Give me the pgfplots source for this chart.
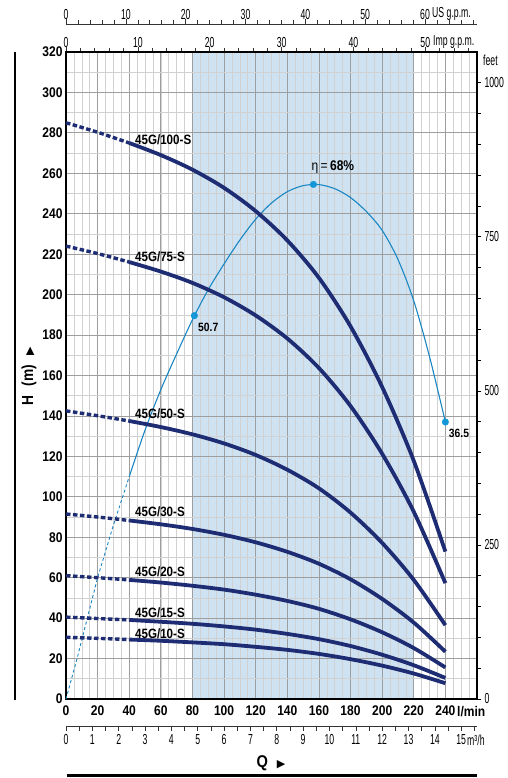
\documentclass[border=0pt]{standalone}
\usepackage{fontspec}
\setmainfont{Liberation Sans}[FakeStretch=0.86]
\newfontfamily\condfont{Liberation Sans}[FakeStretch=0.6]
\newfontfamily\symfont{DejaVu Sans}
\usepackage{pgfplots}
\pgfplotsset{compat=1.18}
\definecolor{navy}{RGB}{30,45,115}
\definecolor{effblue}{RGB}{25,135,195}
\definecolor{markblue}{RGB}{20,150,215}
\definecolor{shadeblue}{RGB}{207,226,242}
\pgfplotsset{dashpart/.style={navy, line width=3.4pt, dash pattern=on 4.5pt off 2.5pt, smooth}}
\pgfplotsset{solidpart/.style={navy, line width=3.8pt, smooth}}
\begin{document}
\begin{tikzpicture}
% ---------- main axis ----------
\begin{axis}[
  at={(0pt,0pt)}, anchor=south west,
  scale only axis, width=411pt, height=647pt,
  xmin=0, xmax=260, ymin=0, ymax=320,
  set layers,
  xtick={0,20,...,240}, minor xtick={0,5,...,260},
  ytick={0,20,...,320}, minor ytick={10,30,...,310},
  grid=both,
  major grid style={draw=black!38, line width=0.8pt},
  minor grid style={draw=black!18, line width=0.6pt},
  major tick length=0pt, minor tick length=0pt,
  axis line style={line width=2.2pt},
  tick label style={font=\bfseries\fontsize{14}{14}\selectfont},
  /pgf/number format/assume math mode=true,
  xticklabel style={yshift=-3pt},
  clip=false,
]
\addplot[fill=shadeblue, draw=none, on layer=axis background] coordinates {(80,0)(80,320)(220,320)(220,0)} -- cycle;

% efficiency curve
\addplot[effblue, line width=0.9pt, dash pattern=on 3pt off 2.5pt] coordinates {(0,0)(7,20)(13.5,40)(20,60)(30,86)(40,110)};
\addplot[effblue, line width=1.1pt, smooth] coordinates {(40,110)(50,133)(60,153)(70,170.7)(80,187.6)(90,202.5)(100,215.2)(110,227)(120,237.3)(130,245.3)(140,250.9)(150,253.9)(160,254.4)(170,252.4)(180,248)(190,241.1)(200,231.8)(210,217.4)(220,196.9)(230,169.2)(240,137)};
\addplot[only marks, mark=*, mark size=3.3pt, color=markblue] coordinates {(81.2,189.6)(156.5,254.5)(240,137)};

% pump curves: dashed parts
\addplot[dashpart] coordinates {(0,285)(20,280.3)(40,275)};
\addplot[dashpart] coordinates {(0,224)(20,220.3)(40,216.1)};
\addplot[dashpart] coordinates {(0,142.5)(20,140.1)(40,137.5)};
\addplot[dashpart] coordinates {(0,91.5)(20,90)(40,88.3)};
\addplot[dashpart] coordinates {(0,61)(20,60)(40,58.9)};
\addplot[dashpart] coordinates {(0,40.5)(20,39.8)(40,39.1)};
\addplot[dashpart] coordinates {(0,30.5)(20,30)(40,29.4)};
% solid parts
\addplot[solidpart] coordinates {(40,275)(60,269)(80,261.8)(100,252.8)(120,241.3)(140,226.8)(160,208.3)(180,184.3)(200,154.3)(220,117.8)(240,72.9)};
\addplot[solidpart] coordinates {(40,216.1)(60,211.4)(80,205.8)(100,198.7)(120,189.7)(140,178.3)(160,163.7)(180,144.9)(200,121.3)(220,92.6)(240,57.3)};
\addplot[solidpart] coordinates {(40,137.5)(60,134.5)(80,130.9)(100,126.4)(120,120.7)(140,113.4)(160,104.2)(180,92.2)(200,77.2)(220,58.9)(240,36.5)};
\addplot[solidpart] coordinates {(40,88.3)(60,86.4)(80,84.1)(100,81.2)(120,77.5)(140,72.8)(160,66.9)(180,59.2)(200,49.5)(220,37.8)(240,23.4)};
\addplot[solidpart] coordinates {(40,58.9)(60,57.6)(80,56)(100,54.1)(120,51.6)(140,48.5)(160,44.6)(180,39.4)(200,33)(220,25.2)(240,15.6)};
\addplot[solidpart] coordinates {(40,39.1)(60,38.2)(80,37.2)(100,35.9)(120,34.3)(140,32.2)(160,29.6)(180,26.2)(200,21.9)(220,16.7)(240,10.4)};
\addplot[solidpart] coordinates {(40,29.4)(60,28.8)(80,28)(100,27.1)(120,25.8)(140,24.3)(160,22.3)(180,19.7)(200,16.5)(220,12.6)(240,7.8)};

% curve labels
\node[anchor=west, inner sep=0pt, font=\bfseries\fontsize{13.5}{13.5}\selectfont] at (axis cs:43.6,276.5) {45G/100-S};
\node[anchor=west, inner sep=0pt, font=\bfseries\fontsize{13.5}{13.5}\selectfont] at (axis cs:43.6,218.8) {45G/75-S};
\node[anchor=west, inner sep=0pt, font=\bfseries\fontsize{13.5}{13.5}\selectfont] at (axis cs:43.6,141.1) {45G/50-S};
\node[anchor=west, inner sep=0pt, font=\bfseries\fontsize{13.5}{13.5}\selectfont] at (axis cs:43.6,92.5) {45G/30-S};
\node[anchor=west, inner sep=0pt, font=\bfseries\fontsize{13.5}{13.5}\selectfont] at (axis cs:43.6,62.9) {45G/20-S};
\node[anchor=west, inner sep=0pt, font=\bfseries\fontsize{13.5}{13.5}\selectfont] at (axis cs:43.6,42.8) {45G/15-S};
\node[anchor=west, inner sep=0pt, font=\bfseries\fontsize{13.5}{13.5}\selectfont] at (axis cs:43.6,32.4) {45G/10-S};
\node[anchor=west, inner sep=0pt, font=\fontsize{14}{14}\selectfont] at (axis cs:155.3,263) {η\,=\,\textbf{68\%}};
\node[anchor=west, inner sep=0pt, font=\bfseries\fontsize{12}{12}\selectfont] at (axis cs:83.5,183.7) {50.7};
\node[anchor=west, inner sep=0pt, font=\bfseries\fontsize{12}{12}\selectfont] at (axis cs:242.1,131.2) {36.5};
\end{axis}

% ---------- feet axis (right) ----------
\begin{axis}[
  at={(0pt,0pt)}, anchor=south west,
  scale only axis, width=411pt, height=647pt,
  xmin=0, xmax=260, ymin=0, ymax=1049.87,
  hide x axis, axis y line*=right,
  axis line style={-, line width=2.2pt},
  ytick={0,250,500,750,1000},
  minor ytick={50,100,...,1000},
  tick align=outside, major tick length=4pt, minor tick length=4pt,
  every tick/.style={black, line width=0.6pt},
  yticklabel style={font=\condfont\fontsize{14.5}{14.5}\selectfont},
  /pgf/number format/assume math mode=true,
  /pgf/number format/1000 sep={},
]
\addplot[draw=none] coordinates {(0,0)(260,1049.87)};
\end{axis}
\node[anchor=west, inner sep=0pt, font=\condfont\fontsize{14.5}{14.5}\selectfont] at (417pt,639pt) {feet};

% ---------- Imp gpm (top of box) ----------
\begin{axis}[
  at={(0pt,0pt)}, anchor=south west,
  scale only axis, width=411pt, height=647pt,
  xmin=0, xmax=57.192, ymin=0, ymax=1,
  hide y axis, axis x line*=top,
  axis line style={-, line width=2.2pt},
  xtick={0,10,...,50}, minor xtick={2,4,...,56},
  tick align=outside, major tick length=5pt, minor tick length=3.5pt,
  every tick/.style={black!80, line width=0.6pt},
  xticklabel style={font=\condfont\fontsize{14.5}{14.5}\selectfont, yshift=-4.5pt},
  /pgf/number format/assume math mode=true,
]
\addplot[draw=none] coordinates {(0,0)(57.192,1)};
\end{axis}
\node[anchor=west, inner sep=0pt, font=\condfont\fontsize{14.5}{14.5}\selectfont] at (367pt,657pt) {Imp g.p.m.};

% ---------- US gpm ----------
\begin{axis}[
  at={(0pt,675pt)}, anchor=north west,
  scale only axis, width=411pt, height=5pt,
  xmin=0, xmax=68.685, ymin=0, ymax=1,
  hide y axis, axis x line*=top,
  axis line style={-, line width=0.8pt, black!80},
  xtick={0,10,...,60}, minor xtick={2,4,...,68},
  tick align=outside, major tick length=5pt, minor tick length=3.5pt,
  every tick/.style={black!80, line width=0.6pt},
  xticklabel style={font=\condfont\fontsize{14.5}{14.5}\selectfont, yshift=-4.5pt},
  /pgf/number format/assume math mode=true,
]
\addplot[draw=none] coordinates {(0,0)(68.685,1)};
\end{axis}
\node[anchor=west, inner sep=0pt, font=\condfont\fontsize{14.5}{14.5}\selectfont] at (366pt,685pt) {US g.p.m.};

% ---------- m3/h ----------
\begin{axis}[
  at={(0pt,-27.7pt)}, anchor=south west,
  scale only axis, width=411pt, height=5pt,
  xmin=0, xmax=15.6, ymin=0, ymax=1,
  hide y axis, axis x line*=bottom,
  axis line style={-, line width=0.8pt, black!80},
  xtick={0,1,...,15}, minor xtick={0.5,1.5,...,15.5},
  tick align=outside, major tick length=4pt, minor tick length=4pt,
  every tick/.style={black!80, line width=0.6pt},
  xticklabel style={font=\condfont\fontsize{14.5}{14.5}\selectfont},
  /pgf/number format/assume math mode=true,
]
\addplot[draw=none] coordinates {(0,0)(15.6,1)};
\end{axis}
\node[anchor=west, inner sep=0pt, font=\condfont\fontsize{14.5}{14.5}\selectfont] at (401pt,-41pt) {m³/h};

% units and titles
\node[anchor=west, inner sep=0pt, font=\bfseries\fontsize{14}{14}\selectfont] at (391pt,-12.7pt) {l/min};
\node[font=\bfseries\fontsize{17}{17}\selectfont, inner sep=0pt] at (205pt,-64pt) {Q\hspace{9pt}{\symfont\fontsize{11}{11}\selectfont ▶}};
\node[rotate=90, font=\bfseries\fontsize{16}{16}\selectfont, inner sep=0pt] at (-37pt,323pt) {H\hspace{9pt}(m)\hspace{10pt}{\symfont\fontsize{11}{11}\selectfont ▶}};
\draw[line width=2.6pt] (-51pt,-1pt) -- (-51pt,647pt);
\draw[line width=2.6pt] (0.7pt,-76.7pt) -- (411pt,-76.7pt);
\pgfresetboundingbox
\path[use as bounding box] (-66pt,-79pt) rectangle (441pt,699pt);
\end{tikzpicture}
\end{document}
